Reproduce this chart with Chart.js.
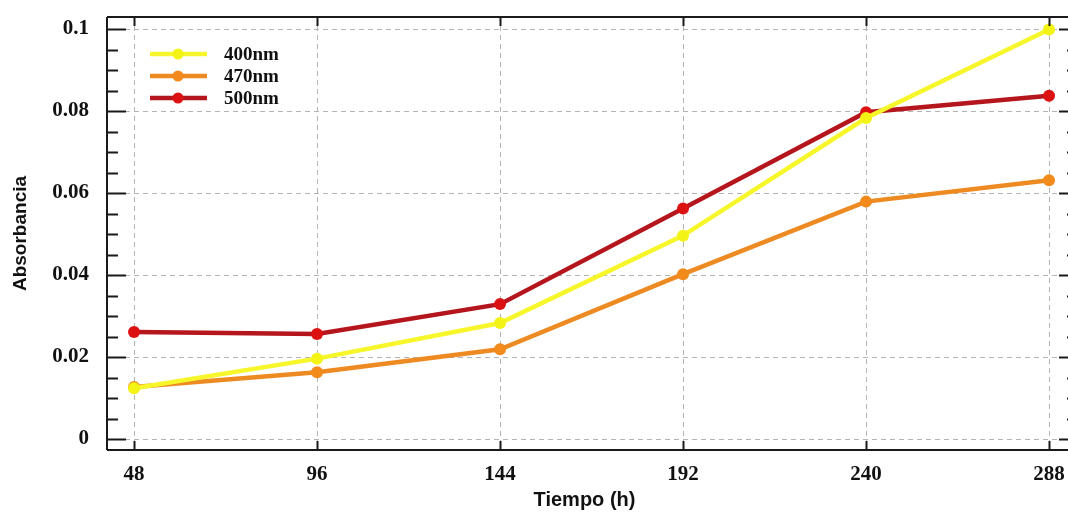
<!DOCTYPE html>
<html>
<head>
<meta charset="utf-8">
<script src="https://cdn.jsdelivr.net/npm/chart.js@4/dist/chart.umd.min.js"></script>
<style>
  html, body { margin: 0; padding: 0; background: #fff; }
  #wrap { width: 1068px; height: 513px; position: relative; }
</style>
</head>
<body>
<div id="wrap"><canvas id="c" width="1068" height="513"></canvas></div>
<script>
// ---- data ----
const categories = [48, 96, 144, 192, 240, 288];
const seriesLabels = ['400nm', '470nm', '500nm'];
const s400 = [0.0124, 0.0196, 0.0283, 0.0496, 0.0783, 0.0999];
const s470 = [0.0127, 0.0163, 0.0219, 0.0402, 0.0579, 0.0631];
const s500 = [0.0261, 0.0256, 0.0329, 0.0562, 0.0797, 0.0837];
const xTicks = [48, 96, 144, 192, 240, 288];
const yTicks = [0, 0.02, 0.04, 0.06, 0.08, 0.1];
const yTickLabels = ['0', '0.02', '0.04', '0.06', '0.08', '0.1'];
const xTitle = 'Tiempo (h)';
const yTitle = 'Absorbancia';

const toPts = arr => categories.map((x, i) => ({ x: x, y: arr[i] }));

const INK = '#1a1a1a';

// frame, inward ticks, minor ticks, legend
const framePlugin = {
  id: 'frame',
  afterDatasetsDraw(chart) {
    const ctx = chart.ctx;
    const a = chart.chartArea;
    const xs = chart.scales.x, ys = chart.scales.y;
    const rightEdge = a.right + 16;
    ctx.save();
    ctx.strokeStyle = INK;
    ctx.lineWidth = 2;
    // box
    ctx.beginPath();
    ctx.moveTo(a.left, a.top);
    ctx.lineTo(rightEdge, a.top);
    ctx.moveTo(a.left, a.bottom);
    ctx.lineTo(rightEdge, a.bottom);
    ctx.moveTo(a.left, a.top);
    ctx.lineTo(a.left, a.bottom);
    ctx.stroke();
    // y ticks (major + minor) on left and right
    const step = yTicks[1] - yTicks[0];
    ctx.beginPath();
    for (let i = 0; i < yTicks.length; i++) {
      const py = Math.round(ys.getPixelForValue(yTicks[i])) + 0.5;
      ctx.moveTo(a.left, py); ctx.lineTo(a.left + 19, py);
      ctx.moveTo(rightEdge, py); ctx.lineTo(rightEdge - 19, py);
      for (let k = 1; k < 4; k++) {
        const v = yTicks[i] + step * k / 4;
        if (v > ys.max) continue;
        const my = Math.round(ys.getPixelForValue(v)) + 0.5;
        ctx.moveTo(a.left, my); ctx.lineTo(a.left + 11, my);
        ctx.moveTo(rightEdge, my); ctx.lineTo(rightEdge - 11, my);
      }
    }
    // x ticks top and bottom
    for (const t of xTicks) {
      const px = Math.round(xs.getPixelForValue(t)) + 0.5;
      ctx.moveTo(px, a.top); ctx.lineTo(px, a.top + 9);
      ctx.moveTo(px, a.bottom); ctx.lineTo(px, a.bottom - 9);
    }
    ctx.stroke();

    // legend
    const ds = chart.data.datasets;
    ctx.font = 'bold 19px "Liberation Serif", serif';
    ctx.textBaseline = 'middle';
    ctx.textAlign = 'left';
    const rowY = [54, 76, 98];
    ds.forEach((d, i) => {
      const y = rowY[i];
      ctx.strokeStyle = d.borderColor;
      ctx.lineWidth = 4.5;
      ctx.beginPath();
      ctx.moveTo(150, y); ctx.lineTo(207, y);
      ctx.stroke();
      ctx.fillStyle = d.pointBackgroundColor;
      ctx.beginPath();
      ctx.arc(178, y, 5.5, 0, Math.PI * 2);
      ctx.fill();
      ctx.fillStyle = '#111';
      ctx.fillText(d.label, 224, y + 1);
    });
    ctx.restore();
  }
};

const fixedTicks = (vals) => (scale) => { scale.ticks = vals.map(v => ({ value: v })); };

new Chart(document.getElementById('c'), {
  type: 'line',
  data: {
    datasets: [
      { label: seriesLabels[0], data: toPts(s400), borderColor: '#f6f62a', pointBackgroundColor: '#f3f316', pointBorderColor: '#f3f316' },
      { label: seriesLabels[1], data: toPts(s470), borderColor: '#ee8a22', pointBackgroundColor: '#f28a1c', pointBorderColor: '#f28a1c' },
      { label: seriesLabels[2], data: toPts(s500), borderColor: '#b5151c', pointBackgroundColor: '#dc1212', pointBorderColor: '#dc1212' }
    ]
  },
  options: {
    responsive: false,
    animation: false,
    layout: { padding: { left: 0, right: 0, top: 17, bottom: 0 } },
    elements: {
      line: { borderWidth: 4.5, tension: 0 },
      point: { radius: 6, borderWidth: 0, hoverRadius: 6 }
    },
    plugins: { legend: { display: false }, tooltip: { enabled: false } },
    scales: {
      x: {
        type: 'linear',
        min: 40.91,
        max: 291.4,
        afterBuildTicks: fixedTicks(xTicks),
        afterFit: s => { s.height = 63; s.paddingLeft = 0; s.paddingRight = 0; },
        grid: { color: '#b4b4b4', lineWidth: 1, drawTicks: false },
        border: { display: false, dash: [5, 4] },
        ticks: {
          padding: 12,
          color: '#111',
          font: { family: '"Liberation Serif", serif', weight: 'bold', size: 21 },
          maxRotation: 0,
          autoSkip: false
        },
        title: {
          display: true,
          text: xTitle,
          color: '#111',
          font: { family: '"Liberation Sans", Arial, sans-serif', weight: 'bold', size: 20 },
          padding: { top: 0, bottom: 1 }
        }
      },
      y: {
        type: 'linear',
        min: -0.00268,
        max: 0.10293,
        afterBuildTicks: fixedTicks(yTicks),
        afterFit: s => { s.width = 107; s.paddingTop = 0; s.paddingBottom = 0; },
        grid: { color: '#b4b4b4', lineWidth: 1, drawTicks: false },
        border: { display: false, dash: [5, 4] },
        ticks: {
          padding: 18,
          color: '#111',
          font: { family: '"Liberation Serif", serif', weight: 'bold', size: 21 },
          callback: (v, i) => yTickLabels[i]
        },
        title: {
          display: true,
          text: yTitle,
          color: '#111',
          font: { family: '"Liberation Sans", Arial, sans-serif', weight: 'bold', size: 19 },
          padding: { top: 9, bottom: 0 }
        }
      }
    }
  },
  plugins: [framePlugin]
});
</script>
</body>
</html>
